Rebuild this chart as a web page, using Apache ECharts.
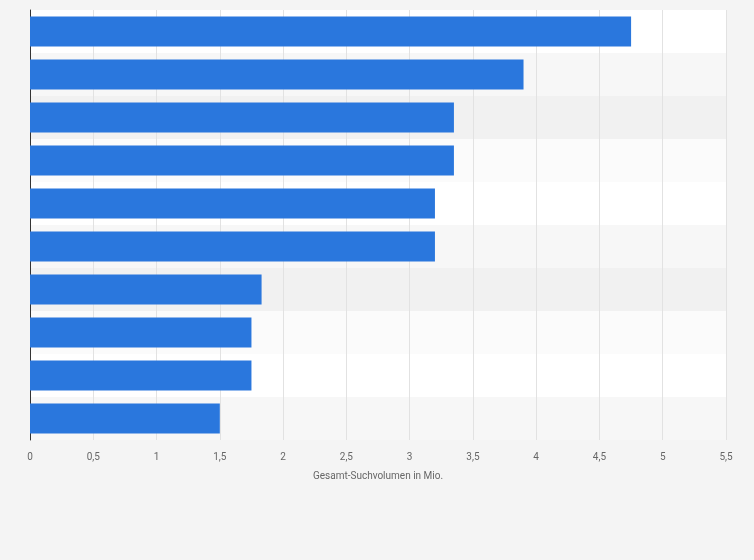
<!DOCTYPE html>
<html>
<head>
<meta charset="utf-8">
<script src="https://cdn.jsdelivr.net/npm/echarts@6/dist/echarts.min.js"></script>
<style>
html, body { margin: 0; padding: 0; background: #f4f4f4; }
#chart { width: 754px; height: 560px; }
</style>
</head>
<body>
<div id="chart"></div>
<script>
// Kategorien ohne sichtbare Beschriftung
var categories = ['1', '2', '3', '4', '5', '6', '7', '8', '9', '10'];
var values = [4.75, 3.9, 3.35, 3.35, 3.2, 3.2, 1.83, 1.75, 1.75, 1.5];
var axisName = 'Gesamt-Suchvolumen in Mio.';

var myChart = echarts.init(document.getElementById('chart'));
var option = {
    backgroundColor: '#f4f4f4',
    grid: { left: 30, right: 28, top: 10, bottom: 120, containLabel: false },
    xAxis: {
        type: 'value',
        min: 0,
        max: 5.5,
        interval: 0.5,
        name: axisName,
        nameLocation: 'middle',
        nameGap: 31,
        nameTextStyle: { color: '#666', fontSize: 10, fontFamily: 'Roboto' },
        axisLabel: {
            color: '#666', fontSize: 10, fontFamily: 'Roboto', margin: 12,
            formatter: function (v) { return String(v).replace('.', ','); }
        },
        splitLine: { show: true, lineStyle: { color: '#e2e2e2' } },
        axisLine: { show: false },
        axisTick: { show: false }
    },
    yAxis: {
        type: 'category',
        inverse: true,
        data: categories,
        axisLabel: { show: false },
        axisTick: { show: false },
        axisLine: { show: true, lineStyle: { color: '#333', width: 1 } },
        splitArea: { show: true, areaStyle: { color: ['#ffffff', '#f7f7f7', '#f1f1f1', '#fbfbfb'] } }
    },
    series: [{
        type: 'bar',
        data: values,
        barWidth: '70%',
        itemStyle: { color: '#2a77dd' }
    }]
};
myChart.setOption(option);
</script>
</body>
</html>
